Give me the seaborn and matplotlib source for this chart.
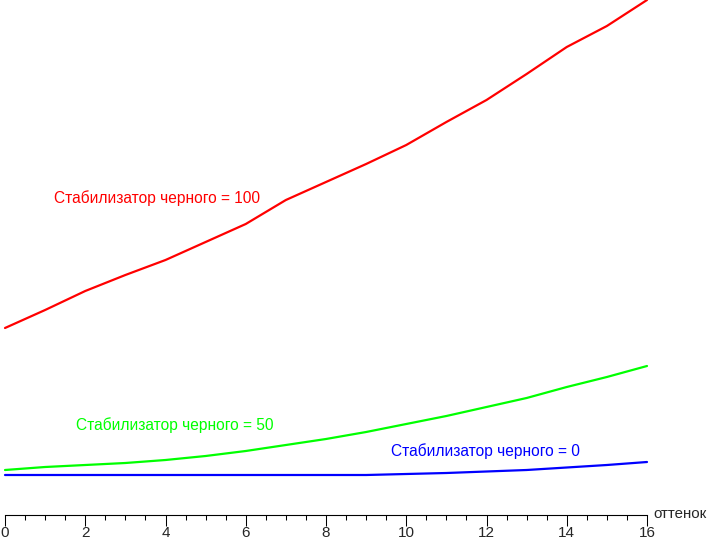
import pandas as pd
import seaborn as sns
import matplotlib.pyplot as plt
from matplotlib.ticker import MultipleLocator

# shade index 0..16 (height above the axis, px)
shade = list(range(17))
black_100 = [187, 205, 224, 240, 255, 273, 291, 315, 333, 351, 370, 393, 415, 441, 468, 489, 515]
black_50 = [45, 48, 50, 52, 55, 59, 64, 70, 76, 83, 91, 99, 108, 117, 128, 138, 149]
black_0 = [40, 40, 40, 40, 40, 40, 40, 40, 40, 40, 41, 42, 43.5, 45, 47.5, 50, 53]

labels = ["Стабилизатор черного = 100", "Стабилизатор черного = 50", "Стабилизатор черного = 0"]
colors = ["#ff0000", "#00ff00", "#0000ff"]

sns.set_style("white")
plt.rcParams["font.family"] = ["Liberation Sans", "DejaVu Sans"]

fig = plt.figure(figsize=(7.12, 5.43), dpi=100)
ax = fig.add_axes([5 / 712, 28 / 543, 642 / 712, 515 / 543])

for ys, c in zip([black_100, black_50, black_0], colors):
    df = pd.DataFrame({"x": shade, "y": ys})
    sns.lineplot(data=df, x="x", y="y", color=c, linewidth=1.6, ax=ax, clip_on=False)

fs = 11.2
ax.text(1.22, 317, labels[0], color=colors[0], fontsize=fs, va="center")
ax.text(1.77, 90, labels[1], color=colors[1], fontsize=fs, va="center")
ax.text(9.62, 64, labels[2], color=colors[2], fontsize=fs, va="center")

ax.set_xlim(0, 16)
ax.set_ylim(0, 515)
for s in ["top", "right", "left"]:
    ax.spines[s].set_visible(False)
ax.spines["bottom"].set_color("black")
ax.spines["bottom"].set_linewidth(0.8)
ax.set_yticks([])
ax.xaxis.set_major_locator(MultipleLocator(2))
ax.xaxis.set_minor_locator(MultipleLocator(0.5))
ax.tick_params(axis="x", which="major", direction="out", length=8.2, width=0.75,
               color="black", labelsize=11, pad=0, bottom=True)
ax.tick_params(axis="x", which="minor", direction="out", length=3.6, width=0.75,
               color="black", bottom=True)
ax.set_xlabel("")
ax.set_ylabel("")
ax.text(16.17, 1, "оттенок", fontsize=10.8, va="center", ha="left", clip_on=False)

fig.savefig("out.png", dpi=100)
